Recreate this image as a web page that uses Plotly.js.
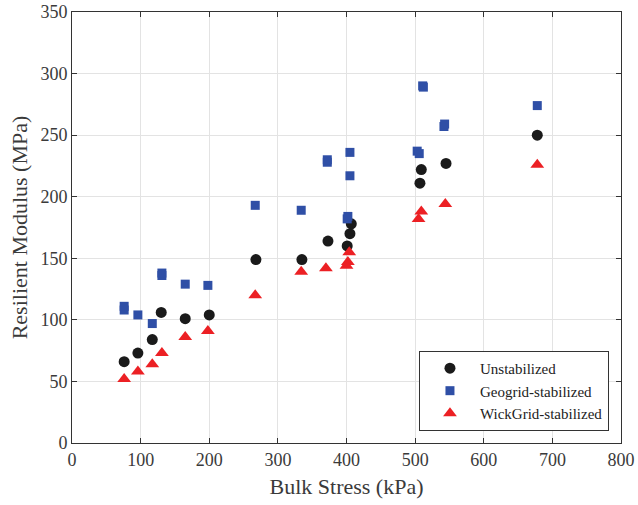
<!DOCTYPE html>
<html>
<head>
<meta charset="utf-8">
<script src="https://cdn.plot.ly/plotly-3.0.1.min.js"></script>
<style>html,body{margin:0;padding:0;background:#fff;}#chart{width:638px;height:505px;}</style>
</head>
<body>
<div id="chart"></div>
<script>
const unstabX = [76, 96, 117, 130, 165, 200, 268, 335, 373, 401, 405, 407, 507, 509, 545, 678];
const unstabY = [66, 73, 84, 106, 101, 104, 149, 149, 164, 160, 170, 178, 211, 222, 227, 250];

const geoX = [76, 76, 96, 117, 131, 131, 165, 198, 267, 334, 372, 372, 401, 402, 405, 405, 503, 506, 511, 512, 542, 543, 678];
const geoY = [108, 111, 104, 97, 136, 138, 129, 128, 193, 189, 228, 230, 182, 184, 236, 217, 237, 235, 290, 289, 257, 259, 274];

const wickX = [76, 96, 117, 131, 165, 198, 267, 334, 370, 400, 402, 404, 505, 509, 544, 678];
const wickY = [52, 58, 64, 73, 86, 91, 120, 139, 142, 144, 147, 155, 182, 188, 194, 226];

const names = ['Unstabilized', 'Geogrid-stabilized', 'WickGrid-stabilized'];
const xTicks = [0, 100, 200, 300, 400, 500, 600, 700, 800];
const yTicks = [0, 50, 100, 150, 200, 250, 300, 350];

const font = 'Liberation Serif, Times New Roman, serif';
const textColor = '#3a3a3a';

const traces = [
  {x: unstabX, y: unstabY, name: names[0], mode: 'markers', type: 'scatter',
   marker: {symbol: 'circle', size: 11, color: '#1a1a1a'}},
  {x: geoX, y: geoY, name: names[1], mode: 'markers', type: 'scatter',
   marker: {symbol: 'square', size: 9, color: '#2f4fa6'}},
  {x: wickX, y: wickY, name: names[2], mode: 'markers', type: 'scatter',
   marker: {symbol: 'triangle-up', size: 12, color: '#ec2024'}}
];

const axisCommon = {
  showline: true, linecolor: '#333', linewidth: 1, mirror: 'ticks',
  ticks: 'inside', ticklen: 5, tickcolor: '#333',
  showgrid: true, gridcolor: '#e3e3e3', gridwidth: 1, zeroline: false,
  tickfont: {family: font, size: 18, color: textColor}
};

const layout = {
  width: 638, height: 505,
  margin: {l: 72, r: 17, t: 12, b: 62},
  paper_bgcolor: '#fff', plot_bgcolor: '#fff',
  font: {family: font, color: textColor},
  showlegend: true,
  xaxis: Object.assign({}, axisCommon, {
    range: [0, 800], tickvals: xTicks, ticktext: xTicks.map(String),
    title: {text: 'Bulk Stress (kPa)', font: {family: font, size: 22, color: textColor}, standoff: 10}
  }),
  yaxis: Object.assign({}, axisCommon, {
    range: [0, 350], tickvals: yTicks, ticktext: yTicks.map(String),
    title: {text: 'Resilient Modulus (MPa)', font: {family: font, size: 22, color: textColor}, standoff: 6}
  }),
  legend: {
    x: 0.632, y: 0.028, xanchor: 'left', yanchor: 'bottom',
    bgcolor: '#fff', bordercolor: '#333', borderwidth: 1,
    font: {family: font, size: 15, color: '#222'},
    itemwidth: 50, tracegroupgap: 0
  }
};

Plotly.newPlot('chart', traces, layout, {staticPlot: true, displayModeBar: false});
</script>
</body>
</html>
